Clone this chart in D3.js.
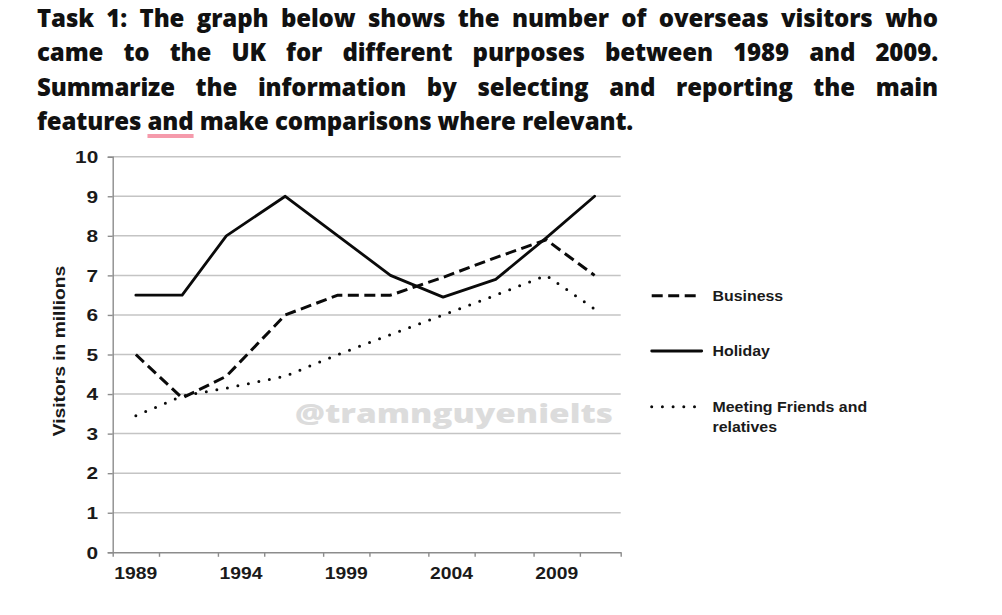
<!DOCTYPE html>
<html><head><meta charset="utf-8">
<script src="https://cdn.jsdelivr.net/npm/d3@7"></script>
<style>
html,body{margin:0;padding:0;background:#fff;width:1002px;height:615px;overflow:hidden;}
#chart{position:absolute;left:0;top:0;}
#title{position:absolute;left:37px;top:1px;width:901px;font-family:"Open Sans",sans-serif;font-weight:800;font-size:24px;line-height:34.3px;color:#111;}
#title .j{text-align:justify;text-align-last:justify;}
#title .l{text-align:left;}
#title .u{text-decoration:underline;text-decoration-color:#f59aab;text-decoration-thickness:4px;text-underline-offset:4px;text-decoration-skip-ink:none;}
</style></head>
<body>
<svg id="chart" width="1002" height="615"></svg>
<div id="title">
  <div class="j"><span>Task 1: The graph below shows the number of overseas visitors who</span></div>
  <div class="j"><span>came to the UK for different purposes between 1989 and 2009.</span></div>
  <div class="j"><span>Summarize the information by selecting and reporting the main</span></div>
  <div class="l"><span>features <span class="u">and</span> make comparisons where relevant.</span></div>
</div>
<script>
// ---- data ----
const years    = [1989, 1991.2, 1993.3, 1996.1, 1998.6, 2001.1, 2003.6, 2006.1, 2008.5, 2010.8];
const business = [5.0, 3.9, 4.45, 6.0, 6.5, 6.5, 6.95, 7.45, 7.9, 7.0];
const holiday  = [6.5, 6.5, 8.0, 9.0, 8.0, 7.0, 6.45, 6.9, 7.95, 9.0];
const meeting  = [3.45, 3.95, 4.15, 4.45, 5.0, 5.5, 6.0, 6.5, 7.0, 6.15];
const yTicks   = [0,1,2,3,4,5,6,7,8,9,10];
const xLabels  = [1989, 1994, 1999, 2004, 2009];
const xTickMarks = [1987.9, 1990.1, 1992.9, 1995.1, 1997.9, 2000.1, 2002.9, 2005.1, 2007.9, 2010.1, 2012.04];
const seriesNames = ["Business", "Holiday", "Meeting Friends and|relatives"];
const yTitle = "Visitors in millions";
const watermark = "@tramnguyenielts";

// ---- title justification fit ----
(function(){
  const spans = Array.from(document.querySelectorAll('#title > div > span'));
  const widths = spans.map(s => s.getBoundingClientRect().width);
  const n4 = spans[3].textContent.length;
  let ls = (631 - widths[3]) / n4;
  const maxW = Math.max(widths[0], widths[1], widths[2]);
  const maxN = Math.max(spans[0].textContent.length, spans[1].textContent.length, spans[2].textContent.length);
  if (maxW + ls * maxN > 893) ls = (893 - maxW) / maxN;
  document.getElementById('title').style.letterSpacing = ls + 'px';
})();

const svg = d3.select('#chart');
const FONT = '"Liberation Sans", Arial, sans-serif';
function stretch(sel, f){
  sel.each(function(){
    const l = this.getComputedTextLength();
    d3.select(this).attr('textLength', l * f).attr('lengthAdjust', 'spacingAndGlyphs');
  });
}

const x = d3.scaleLinear().domain([1987.9, 2012.04]).range([112.7, 620.7]);
const y = d3.scaleLinear().domain([0, 10]).range([552.3, 156.7]);

// gridlines
svg.append('g').selectAll('line').data(yTicks.filter(d => d > 0)).join('line')
  .attr('x1', x(1987.9)).attr('x2', x(2012.04))
  .attr('y1', d => y(d)).attr('y2', d => y(d))
  .attr('stroke', '#c4c4c4').attr('stroke-width', 1.5);

// y axis
const yAxis = svg.append('g').attr('transform', `translate(${x(1987.9)},0)`)
  .call(d3.axisLeft(y).tickValues(yTicks).tickSize(5).tickPadding(9.5).tickFormat(d3.format('d')));
yAxis.select('.domain').attr('stroke', '#8c8c8c').attr('stroke-width', 1.4);
yAxis.selectAll('.tick line').attr('stroke', '#8c8c8c').attr('stroke-width', 1.4);
yAxis.selectAll('text').attr('font-family', FONT).attr('font-weight', 'bold').attr('font-size', 16)
  .attr('fill', '#1a1a1a').attr('dy', '0.36em');
stretch(yAxis.selectAll('text'), 1.3);

// x axis
const xAxis = svg.append('g').attr('transform', `translate(0,${y(0)})`)
  .call(d3.axisBottom(x).tickValues(xTickMarks).tickSizeInner(4.5).tickSizeOuter(0).tickFormat(''));
xAxis.select('.domain').attr('stroke', '#8c8c8c').attr('stroke-width', 1.4);
xAxis.selectAll('.tick line').attr('stroke', '#8c8c8c').attr('stroke-width', 1.4);

const xl = svg.append('g').selectAll('text').data(xLabels).join('text')
  .attr('x', d => x(d)).attr('y', y(0) + 27)
  .attr('text-anchor', 'middle')
  .attr('font-family', FONT).attr('font-weight', 'bold').attr('font-size', 16.5).attr('fill', '#1a1a1a')
  .text(d => d);
stretch(xl, 1.17);

// y title
const yt = svg.append('text')
  .attr('transform', `translate(${65},${351}) rotate(-90)`)
  .attr('text-anchor', 'middle')
  .attr('font-family', FONT).attr('font-weight', 'bold').attr('font-size', 17).attr('fill', '#1a1a1a')
  .text(yTitle);
stretch(yt, 1.13);

// watermark
const wm = svg.append('text')
  .attr('x', 454).attr('y', 423)
  .attr('text-anchor', 'middle')
  .attr('font-family', '"Open Sans", sans-serif').attr('font-weight', 800).attr('font-size', 27)
  .attr('fill', '#dcdcdc')
  .text(watermark);
wm.attr('textLength', 318).attr('lengthAdjust', 'spacingAndGlyphs');

// series
const styles = [
  {vals: business, dash: '11 5.5', cap: 'butt', w: 3},
  {vals: holiday,  dash: null,     cap: 'round', w: 2.8},
  {vals: meeting,  dash: '0 10.7', cap: 'round', w: 3}
];
const line = d3.line().x(d => x(d[0])).y(d => y(d[1]));
styles.forEach(s => {
  svg.append('path')
    .datum(years.map((yr, i) => [yr, s.vals[i]]))
    .attr('d', line)
    .attr('fill', 'none').attr('stroke', '#0a0a0a').attr('stroke-width', s.w)
    .attr('stroke-linejoin', 'round').attr('stroke-linecap', s.cap)
    .attr('stroke-dasharray', s.dash);
});

// legend
const legY = [295.7, 351, 406.7];
const legLen = [44, 50, 44];
const lg = svg.append('g');
styles.forEach((s, i) => {
  lg.append('line')
    .attr('x1', 651.7).attr('x2', 651.7 + legLen[i])
    .attr('y1', legY[i]).attr('y2', legY[i])
    .attr('stroke', '#0a0a0a').attr('stroke-width', s.w)
    .attr('stroke-linecap', s.cap).attr('stroke-dasharray', s.dash);
  const parts = seriesNames[i].split('|');
  parts.forEach((p, k) => {
    const t = lg.append('text')
      .attr('x', 712.5).attr('y', legY[i] + 5.4 + k * 19.5)
      .attr('font-family', FONT).attr('font-weight', 'bold').attr('font-size', 15).attr('fill', '#1a1a1a')
      .text(p);
    stretch(t, 1.06);
  });
});
</script>
</body></html>
